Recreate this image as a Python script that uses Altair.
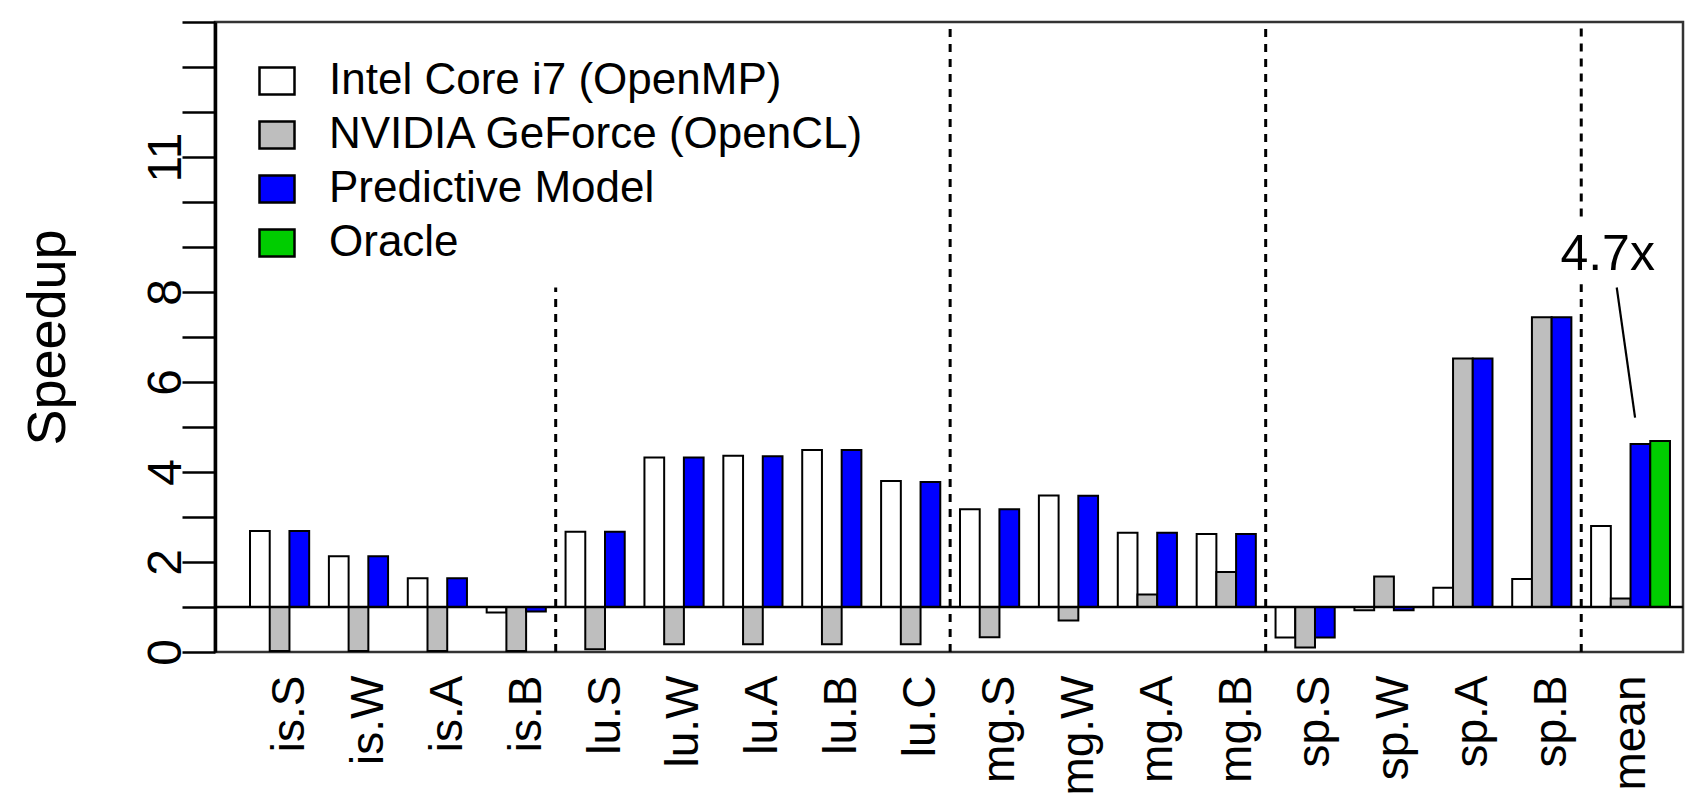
import json
import altair as alt
import pandas as pd

benchmarks = ["is.S", "is.W", "is.A", "is.B", "lu.S", "lu.W", "lu.A", "lu.B", "lu.C",
              "mg.S", "mg.W", "mg.A", "mg.B", "sp.S", "sp.W", "sp.A", "sp.B", "mean"]
series = ["Intel Core i7 (OpenMP)", "NVIDIA GeForce (OpenCL)", "Predictive Model", "Oracle"]
colors = ["#ffffff", "#bebebe", "#0000ff", "#00cd00"]

cpu = [2.69, 2.13, 1.64, 0.88, 2.67, 4.32, 4.36, 4.49, 3.80, 3.17, 3.48, 2.65, 2.62, 0.32, 0.93, 1.43, 1.62, 2.80]
gpu = [0.02, 0.02, 0.02, 0.02, 0.06, 0.17, 0.17, 0.17, 0.17, 0.33, 0.70, 1.28, 1.78, 0.10, 1.68, 6.52, 7.44, 1.19]
pred = [2.69, 2.13, 1.64, 0.90, 2.67, 4.32, 4.35, 4.49, 3.78, 3.17, 3.47, 2.65, 2.62, 0.32, 0.93, 6.52, 7.44, 4.62]
oracle = [None] * 17 + [4.69]

y_tick_values = list(range(15))
y_tick_labels = [0, 2, 4, 6, 8, 11]

# dashed separators: after these benchmarks, with vertical extent
sep_after = ["is.B", "lu.C", "mg.B", "sp.B", "sp.B"]
sep_y0 = [0, 0, 0, 0, 9.68]
sep_y1 = [8.1, 14, 14, 8.17, 14]

annot_text = "4.7x"
annot_text_pos = (68.84, 8.5)
annot_line = (69.3, 8.10, 70.23, 5.21)

rows = []
for i, b in enumerate(benchmarks):
    for j, vals in enumerate([cpu, gpu, pred, oracle]):
        v = vals[i]
        if v is None:
            continue
        rows.append({"bench": b, "series": series[j], "value": v,
                     "x0": 4 * i + j, "x1": 4 * i + j + 1})
df = pd.DataFrame(rows)

sep_df = pd.DataFrame({
    "x": [4 * benchmarks.index(b) + 3.5 for b in sep_after],
    "y0": sep_y0, "y1": sep_y1,
})
ann_df = pd.DataFrame({"x": [annot_line[0]], "y": [annot_line[1]],
                       "x2": [annot_line[2]], "y2": [annot_line[3]]})
txt_df = pd.DataFrame({"x": [annot_text_pos[0]], "y": [annot_text_pos[1]], "t": [annot_text]})

FONT = "Liberation Sans"
xdom = [-1.775, 72.66]
xscale = alt.Scale(domain=xdom, nice=False, zero=False)
yscale = alt.Scale(domain=[0, 14], nice=False, zero=False)

label_expr_x = json.dumps(benchmarks) + "[round((datum.value - 2) / 4)]"
label_expr_y = "indexof(" + json.dumps(y_tick_labels) + ", datum.value) >= 0 ? datum.label : ''"

bars = alt.Chart(df).mark_bar(stroke="black", strokeWidth=2, opacity=1).encode(
    x=alt.X("x0:Q", scale=xscale, axis=alt.Axis(
        values=[4 * i + 2 for i in range(len(benchmarks))], labelExpr=label_expr_x,
        labelAngle=270, labelAlign="right", labelBaseline="middle", labelPadding=23,
        ticks=False, tickSize=0, domain=False, grid=False, labelFontSize=46,
        labelFont=FONT, labelColor="black", labelOverlap=False, labelFlush=False,
        labelBound=False, title=None)),
    x2="x1:Q",
    y=alt.Y("value:Q", scale=yscale, axis=alt.Axis(
        values=y_tick_values, labelExpr=label_expr_y, labelAngle=270,
        labelAlign="center", labelBaseline="alphabetic", tickSize=33, tickWidth=2.5,
        tickColor="black", domainColor="black", domainWidth=3.5, labelFontSize=48,
        labelFont=FONT, labelColor="black", labelPadding=2, grid=False,
        labelOverlap=False, labelFlush=False, labelBound=False,
        title="Speedup", titleFontSize=54, titleFont=FONT, titleFontWeight="normal",
        titleColor="black", titleAngle=270, titleX=-151, titleY=315,
        titleBaseline="alphabetic", titleAlign="center")),
    y2=alt.datum(1),
    color=alt.Color("series:N", scale=alt.Scale(domain=series, range=colors),
                    legend=alt.Legend(
                        title=None, orient="none", legendX=40, legendY=37,
                        symbolType="M-1,-0.77H1V0.77H-1Z", symbolSize=1225,
                        symbolStrokeColor="black", symbolStrokeWidth=2.5,
                        symbolOpacity=1, labelFont=FONT, labelFontSize=44,
                        labelColor="black", labelOffset=30, rowPadding=10,
                        padding=0, labelLimit=0)),
)

baseline = alt.Chart(pd.DataFrame({"y": [1]})).mark_rule(color="black", strokeWidth=2.5).encode(
    y=alt.Y("y:Q", scale=yscale))

seps = alt.Chart(sep_df).mark_rule(color="black", strokeWidth=3, strokeDash=[8, 7]).encode(
    x=alt.X("x:Q", scale=xscale), y=alt.Y("y0:Q", scale=yscale), y2="y1:Q")

ann = alt.Chart(ann_df).mark_rule(color="black", strokeWidth=2.2).encode(
    x=alt.X("x:Q", scale=xscale), y=alt.Y("y:Q", scale=yscale), x2="x2:Q", y2="y2:Q")

txt = alt.Chart(txt_df).mark_text(font=FONT, fontSize=50, color="black", align="center",
                                  baseline="alphabetic").encode(
    x=alt.X("x:Q", scale=xscale), y=alt.Y("y:Q", scale=yscale), text="t:N")

chart = alt.layer(seps, bars, baseline, ann, txt).properties(
    width=1468, height=630,
    autosize=alt.AutoSizeParams(type="none"),
    padding={"left": 207, "top": 14, "right": 12, "bottom": 150},
    background="white",
).configure_view(stroke="#333333", strokeWidth=2.5)

chart.save("out.html", embed_options={"renderer": "svg", "actions": False})
